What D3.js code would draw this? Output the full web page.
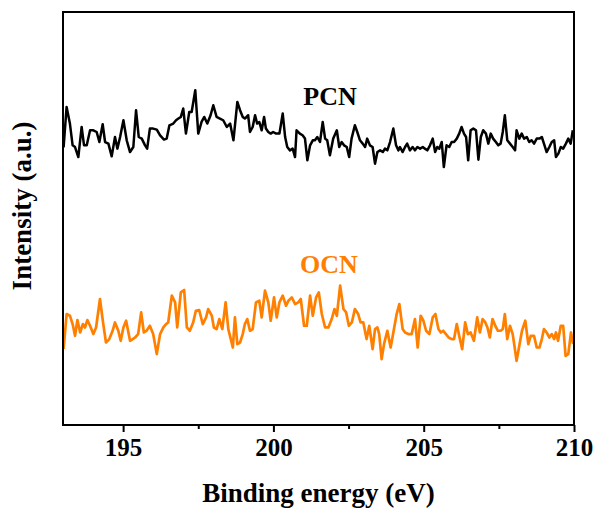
<!DOCTYPE html>
<html>
<head>
<meta charset="utf-8">
<script src="https://cdn.jsdelivr.net/npm/d3@7"></script>
<style>
  html, body { margin: 0; padding: 0; background: #fff; }
  svg text { font-family: "Liberation Serif", "Times New Roman", serif; font-weight: bold; }
</style>
</head>
<body>
<svg id="chart" width="597" height="508"></svg>
<script>
// ---- data (binding energy in eV, intensity in a.u.) ----
const pcnEnergy = [193.02,193.12,193.23,193.32,193.40,193.51,193.62,193.70,193.79,193.90,194.01,194.12,194.21,194.32,194.40,194.51,194.62,194.73,194.81,194.90,195.01,195.12,195.23,195.34,195.43,195.52,195.62,195.73,195.80,195.89,196.00,196.12,196.23,196.36,196.45,196.54,196.67,196.76,196.84,196.92,197.00,197.09,197.20,197.28,197.40,197.50,197.61,197.70,197.80,197.91,198.00,198.11,198.22,198.33,198.45,198.56,198.67,198.80,198.89,198.98,199.05,199.16,199.22,199.31,199.39,199.46,199.53,199.61,199.69,199.75,199.83,199.91,199.99,200.09,200.20,200.31,200.39,200.46,200.55,200.64,200.72,200.77,200.88,200.97,201.05,201.13,201.22,201.31,201.38,201.46,201.55,201.64,201.72,201.79,201.88,201.99,202.11,202.19,202.27,202.35,202.44,202.52,202.60,202.71,202.79,202.88,202.97,203.05,203.12,203.21,203.30,203.38,203.46,203.55,203.64,203.71,203.79,203.88,203.99,204.08,204.16,204.21,204.30,204.38,204.45,204.54,204.63,204.71,204.79,204.88,204.97,205.04,205.12,205.21,205.30,205.38,205.45,205.52,205.60,205.67,205.76,205.85,205.93,206.01,206.10,206.18,206.26,206.34,206.41,206.48,206.56,206.65,206.74,206.82,206.90,206.98,207.07,207.15,207.23,207.31,207.40,207.48,207.56,207.63,207.70,207.78,207.87,207.96,208.04,208.09,208.18,208.26,208.34,208.43,208.51,208.59,208.67,208.76,208.85,208.93,209.00,209.09,209.18,209.26,209.34,209.40,209.48,209.56,209.64,209.73,209.81,209.89,209.96];
const pcnIntensity = [277,317.3,300.7,279,277.3,267.3,297.3,279,279,294,294,292.3,282.3,300,282.3,280.7,268,287.3,275.7,287.3,304,284,272.3,277.3,314,287.3,285.7,279,275.7,295.7,295.7,294.7,289,284.7,285.7,299,300.7,304,305.7,307.3,315.7,290.7,312.3,312.3,334,290.7,302.3,307.3,300.7,309,319,307.3,305.7,304,297.3,300.7,284,322.3,314,307.3,305.7,309,292.3,297.3,309,300.7,302.3,294,307.3,295.7,292.3,290.7,292.3,290.7,290.7,310.7,287.3,277.3,274,275.7,267.3,294,290.7,289,285.7,264,279,284,284,287.3,282.3,302.3,285.7,284,269,285.7,294,277.3,282.3,279,277.3,267.3,285.7,299,292.3,284,280.7,277.3,285.7,279,277.3,260.7,272.3,274,272.3,275.7,274,282.3,295.7,279,274,277.3,272.3,277.3,280.7,274,277.3,274,277.3,275.7,277.3,275.7,274,279,285.7,272.3,277.3,275.7,282.3,257.3,279,277.3,282.3,282.3,285.7,290.7,297.3,290.7,287.3,264,294,295.7,294,264.7,287.3,294,290.7,280.7,290.7,285.7,282.3,279,280.7,292.3,309,284,280.7,277.3,274,294,285.7,290.7,285.7,287.3,282.3,284,280.7,285.7,285.7,287.3,280.7,272.3,277.3,282.3,284,267.3,270.7,277.3,275.7,280.7,285.7,280.7,294];

const ocnEnergy = [193.02,193.12,193.23,193.32,193.40,193.48,193.57,193.66,193.73,193.81,193.90,194.01,194.10,194.23,194.34,194.43,194.54,194.65,194.73,194.84,194.92,195.01,195.10,195.23,195.32,195.40,195.50,195.60,195.69,195.78,195.89,196.00,196.12,196.23,196.34,196.43,196.50,196.62,196.73,196.80,196.92,197.03,197.12,197.22,197.33,197.42,197.53,197.65,197.76,197.83,197.95,198.02,198.11,198.20,198.30,198.41,198.50,198.65,198.72,198.80,198.89,198.98,199.05,199.13,199.22,199.31,199.42,199.53,199.61,199.72,199.83,199.91,200.02,200.11,200.20,200.31,200.42,200.50,200.61,200.72,200.83,200.91,201.02,201.11,201.22,201.31,201.42,201.51,201.61,201.72,201.83,201.94,202.03,202.11,202.22,202.33,202.42,202.51,202.61,202.71,202.82,202.90,202.99,203.10,203.19,203.30,203.38,203.46,203.52,203.60,203.68,203.79,203.90,203.99,204.10,204.19,204.30,204.38,204.49,204.60,204.71,204.80,204.90,204.99,205.08,205.19,205.30,205.39,205.49,205.57,205.65,205.74,205.83,205.93,206.01,206.10,206.18,206.28,206.38,206.47,206.56,206.67,206.78,206.87,206.96,207.05,207.12,207.20,207.29,207.38,207.47,207.56,207.63,207.70,207.78,207.87,207.96,208.01,208.09,208.18,208.27,208.38,208.48,208.56,208.67,208.76,208.85,208.93,209.00,209.09,209.18,209.26,209.34,209.40,209.47,209.56,209.64,209.72,209.81,209.90,209.97];
const ocnIntensity = [76,110.7,109,100.7,89,104.7,92.3,100.7,97.3,104.7,99,90.7,97.3,125.7,100.7,82.3,85.7,94,102.3,94,84,97.3,104,84,85.7,87.3,90.7,112.3,92.3,94,99,90.7,70.7,90.7,97.3,100.7,102.3,129,122.3,97.3,132.3,134.7,97.3,94,102.3,114,114.7,100.7,107.3,115.7,109,97.3,95.7,105.7,95.7,122.3,95.7,77.3,107.3,80.7,82.3,90.7,100.7,105.7,94,95.7,122.3,124,107.3,134,122.3,104,127.3,107.3,122.3,129,119,124,127.3,120.7,122.3,125.7,99,99,129,109,127.3,132.3,110.7,97.3,97.3,105.7,115.7,109,139,115.7,112.3,99,102.3,115.7,110.7,102.3,102.3,85.7,99,75.7,95.7,97.3,90.7,65.7,80.7,94,77.3,92.3,110.7,120.7,95.7,92.3,90.7,90.7,105.7,77.3,109,104,94,90.7,107.3,110.7,95.7,92.3,94,90.7,87.3,85.7,85.7,100.7,89,75.7,102.3,90.7,92.3,84,107.3,92.3,105.7,102.3,97.3,87.3,105.7,99,94,94,95.7,110.7,85.7,99,90.7,80.7,64,79,94,104,80.7,89,89,77.3,77.3,85.7,95.7,92.3,87.3,90.7,85.7,92.3,84,99,99,69,70.7,92.3,80.7];

const xTicks = [195, 200, 205, 210];
const xMinorTicks = [197.5, 202.5, 207.5];
const xDomain = [193, 210];
const yDomain = [0, 412];

// ---- layout ----
const margin = { left: 63, right: 23, top: 12, bottom: 83 };
const W = 597, H = 508;
const svg = d3.select("#chart");
const x = d3.scaleLinear().domain(xDomain).range([margin.left, W - margin.right]);
const y = d3.scaleLinear().domain(yDomain).range([H - margin.bottom, margin.top]);

const line = d3.line().x(d => x(d[0])).y(d => y(d[1]));

svg.append("path")
  .datum(d3.zip(ocnEnergy, ocnIntensity))
  .attr("d", line).attr("fill", "none")
  .attr("stroke", "#FF8000").attr("stroke-width", 2.7).attr("stroke-linejoin", "round");

svg.append("path")
  .datum(d3.zip(pcnEnergy, pcnIntensity))
  .attr("d", line).attr("fill", "none")
  .attr("stroke", "#000").attr("stroke-width", 2.5).attr("stroke-linejoin", "round");

// frame
svg.append("rect")
  .attr("x", x(xDomain[0])).attr("y", y(yDomain[1]))
  .attr("width", x(xDomain[1]) - x(xDomain[0]))
  .attr("height", y(yDomain[0]) - y(yDomain[1]))
  .attr("fill", "none").attr("stroke", "#000").attr("stroke-width", 2);

// x axis
const gx = svg.append("g").attr("transform", `translate(0,${y(yDomain[0])})`)
  .call(d3.axisBottom(x).tickValues(xTicks).tickSize(7).tickSizeOuter(0).tickPadding(6).tickFormat(d3.format("d")));
gx.select(".domain").remove();
gx.selectAll(".tick line").attr("stroke-width", 2);
gx.selectAll(".tick text").attr("font-size", 25).attr("fill", "#000")
  .style("font-family", '"Liberation Serif", serif').style("font-weight", "bold");

const gm = svg.append("g").attr("transform", `translate(0,${y(yDomain[0])})`)
  .call(d3.axisBottom(x).tickValues(xMinorTicks).tickSize(4).tickSizeOuter(0).tickFormat(""));
gm.select(".domain").remove();
gm.selectAll(".tick line").attr("stroke-width", 2);

// axis titles
svg.append("text").attr("x", (x(xDomain[0]) + x(xDomain[1])) / 2).attr("y", 502)
  .attr("text-anchor", "middle").attr("font-size", 27).text("Binding energy (eV)");
svg.append("text").attr("transform", "translate(31,206) rotate(-90)")
  .attr("text-anchor", "middle").attr("font-size", 27).text("Intensity (a.u.)");

// series labels
svg.append("text").attr("x", 330).attr("y", 105).attr("text-anchor", "middle")
  .attr("font-size", 26).attr("fill", "#000").text("PCN");
svg.append("text").attr("x", 329).attr("y", 273).attr("text-anchor", "middle")
  .attr("font-size", 26).attr("fill", "#FF8000").text("OCN");
</script>
</body>
</html>
